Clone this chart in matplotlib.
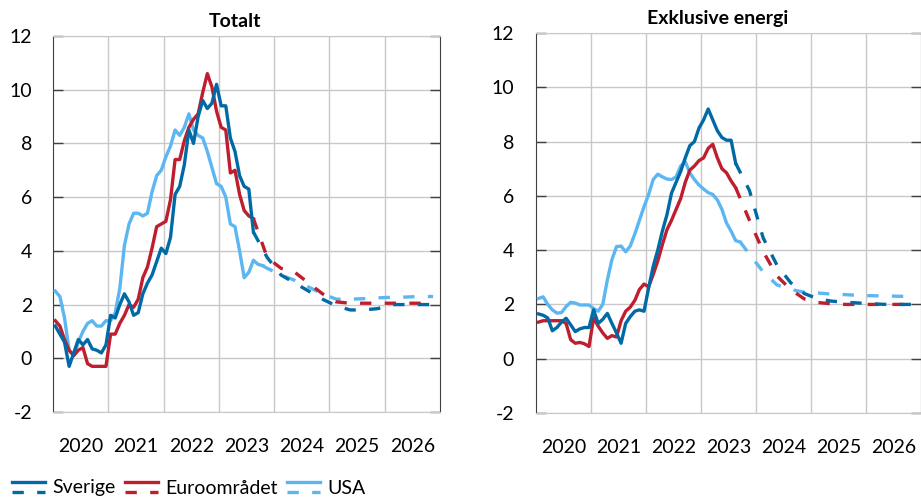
import matplotlib
matplotlib.use("Agg")
import matplotlib.pyplot as plt
import numpy as np
import pandas as pd
from matplotlib.legend_handler import HandlerBase
from matplotlib.lines import Line2D

plt.rcParams["font.family"] = ["Lato", "DejaVu Sans"]
plt.rcParams["axes.unicode_minus"] = False

# --- data (annual % change), monthly outcomes from Jan 2020 ---
tot_se = [1.2, 0.9, 0.6, -0.3, 0.2, 0.7, 0.5, 0.7, 0.35, 0.3, 0.2, 0.5,
          1.6, 1.5, 2.0, 2.4, 2.1, 1.6, 1.7, 2.4, 2.8, 3.1, 3.6, 4.1,
          3.9, 4.5, 6.1, 6.4, 7.2, 8.5, 8.0, 9.0, 9.6, 9.3, 9.5, 10.2,
          9.4, 9.4, 8.2, 7.7, 6.8, 6.4, 6.3, 4.7]
tot_eu = [1.4, 1.2, 0.7, 0.3, 0.1, 0.3, 0.4, -0.2, -0.3, -0.3, -0.3, -0.3,
          0.9, 0.9, 1.3, 1.6, 2.0, 1.9, 2.2, 3.0, 3.4, 4.1, 4.9, 5.0,
          5.1, 5.9, 7.4, 7.4, 8.1, 8.6, 8.9, 9.1, 9.9, 10.6, 10.1, 9.2,
          8.6, 8.5, 6.9, 7.0, 6.1, 5.5, 5.3, 5.2]
tot_us = [2.5, 2.3, 1.5, 0.3, 0.1, 0.6, 1.0, 1.3, 1.4, 1.2, 1.2, 1.4,
          1.4, 1.7, 2.6, 4.2, 5.0, 5.4, 5.4, 5.3, 5.4, 6.2, 6.8, 7.0,
          7.5, 7.9, 8.5, 8.3, 8.6, 9.1, 8.5, 8.3, 8.2, 7.7, 7.1, 6.5,
          6.4, 6.0, 5.0, 4.9, 4.0, 3.0, 3.2, 3.65, 3.5, 3.45]

exe_se = [1.65, 1.6, 1.5, 1.03, 1.15, 1.35, 1.49, 1.25, 1.0, 1.1, 1.15, 1.15,
          1.8, 1.3, 1.45, 1.67, 1.3, 0.95, 0.57, 1.3, 1.55, 1.75, 1.8, 1.75,
          2.6, 3.4, 4.0, 4.7, 5.3, 6.1, 6.5, 6.9, 7.4, 7.85, 8.0, 8.5,
          8.8, 9.2, 8.8, 8.4, 8.15, 8.05, 8.05, 7.2]
exe_eu = [1.35, 1.4, 1.4, 1.4, 1.4, 1.4, 1.3, 0.7, 0.57, 0.6, 0.55, 0.45,
          1.5, 1.2, 0.95, 0.75, 0.85, 0.8, 1.4, 1.75, 1.9, 2.15, 2.55, 2.75,
          2.65, 3.1, 3.6, 4.2, 4.75, 5.1, 5.5, 5.9, 6.5, 6.95, 7.1, 7.3,
          7.4, 7.75, 7.9, 7.4, 7.0, 6.85, 6.55, 6.3]
exe_us = [2.22, 2.28, 2.0, 1.8, 1.68, 1.7, 1.92, 2.08, 2.05, 1.98, 1.98, 1.98,
          1.85, 1.75, 2.0, 2.9, 3.65, 4.13, 4.15, 3.94, 4.15, 4.6, 5.1, 5.6,
          6.05, 6.6, 6.8, 6.7, 6.62, 6.6, 6.7, 7.1, 7.26, 6.85, 6.6, 6.4,
          6.25, 6.12, 6.05, 5.85, 5.5, 5.0, 4.7, 4.35, 4.3]

# forecasts, quarterly 2023Q4 - 2026Q4
fc_quarters = pd.period_range("2023Q4", "2026Q4", freq="Q")
tot_se_fc = [3.75, 3.1, 2.8, 2.5, 2.2, 1.95, 1.8, 1.8, 1.85, 2.0, 2.0, 2.0, 2.0]
tot_eu_fc = [3.75, 3.35, 3.2, 2.8, 2.4, 2.1, 2.05, 2.05, 2.05, 2.05, 2.05, 2.05, 2.05]
tot_us_fc = [3.35, 3.1, 2.9, 2.65, 2.4, 2.2, 2.2, 2.22, 2.25, 2.27, 2.28, 2.3, 2.3]
exe_se_fc = [6.2, 4.45, 3.45, 2.8, 2.4, 2.2, 2.12, 2.08, 2.05, 2.02, 2.0, 2.0, 2.0]
exe_eu_fc = [5.1, 3.95, 3.05, 2.55, 2.2, 2.07, 2.02, 2.0, 2.0, 2.0, 2.0, 2.0, 2.0]
exe_us_fc = [3.85, 3.2, 2.72, 2.55, 2.45, 2.42, 2.38, 2.36, 2.33, 2.32, 2.31, 2.3, 2.3]

years = list(range(2020, 2027))
names = ["Sverige", "Euroområdet", "USA"]
colors = {"Sverige": "#006aa7", "Euroområdet": "#be1e2d", "USA": "#5bb6f1"}

LW = 2.4
DASH = (0, (3.4, 4.0))


def month_x(n):
    d = pd.date_range("2020-01-01", periods=n, freq="MS")
    return np.asarray(d.year + (d.month - 0.5) / 12)


def quarter_x(q):
    return np.asarray(q.year + (q.quarter * 3 - 1.5) / 12)


def draw_panel(ax, title, series, ypad):
    for name, (out, fc) in reversed(list(zip(names, series))):
        c = colors[name]
        xo = month_x(len(out))
        ax.plot(xo, out, color=c, lw=LW, solid_joinstyle="round", zorder=3)
        xf = np.concatenate([xo[-1:], quarter_x(fc_quarters)])
        yf = [out[-1]] + list(fc)
        ax.plot(xf, yf, color=c, lw=LW, ls=DASH, zorder=3)

    ax.set_xlim(2020, 2027)
    ax.set_ylim(-2, 12)
    ax.set_yticks(range(-2, 13, 2))
    ax.set_xticks([y + 0.5 for y in years], [str(y) for y in years])
    ax.set_xticks(range(2021, 2027), minor=True)
    ax.grid(axis="y", which="major", color="#c8c8c8", lw=1.0)
    ax.grid(axis="x", which="minor", color="#c8c8c8", lw=1.0)
    ax.tick_params(axis="x", which="both", length=0, pad=19, labelsize=14)
    ax.tick_params(axis="y", direction="in", left=True, right=True, length=7,
                   width=1, color="#404040", pad=ypad, labelsize=14)
    for s in ["left", "right"]:
        ax.spines[s].set_color("#404040")
    for s in ["top", "bottom"]:
        ax.spines[s].set_color("#c8c8c8")
    ax.set_axisbelow(True)
    ax.set_title(title, fontsize=14, fontweight="bold", x=0.47, pad=6.5)


class SolidOverDashed(HandlerBase):
    def create_artists(self, legend, orig_handle, xdescent, ydescent,
                       width, height, fontsize, trans):
        c = orig_handle.get_color()
        yc = height / 2 - ydescent
        off = 0.26 * fontsize
        xs = [-xdescent, width - xdescent]
        top = Line2D(xs, [yc + off] * 2, color=c, lw=LW, transform=trans)
        bot = Line2D(xs, [yc - off] * 2, color=c, lw=LW, ls=DASH, transform=trans)
        return [top, bot]


fig = plt.figure(figsize=(9.21, 4.99), dpi=100)
ax1 = fig.add_axes([53 / 921, 1 - 412 / 499, 387 / 921, 376 / 499])
ax2 = fig.add_axes([536.3 / 921, 1 - 413 / 499, 385 / 921, 380 / 499])

draw_panel(ax1, "Totalt",
           [(tot_se, tot_se_fc), (tot_eu, tot_eu_fc), (tot_us, tot_us_fc)], 15)
draw_panel(ax2, "Exklusive energi",
           [(exe_se, exe_se_fc), (exe_eu, exe_eu_fc), (exe_us, exe_us_fc)], 16)

handles = [Line2D([], [], color=colors[n]) for n in names]
fig.legend(handles, names, handler_map={Line2D: SolidOverDashed()},
           loc="center left", bbox_to_anchor=(12 / 921, 1 - 488 / 499),
           ncol=3, frameon=False, fontsize=14, borderpad=0, borderaxespad=0,
           handlelength=1.7, handletextpad=0.4, columnspacing=0.45)

fig.savefig("out.png", dpi=100)
